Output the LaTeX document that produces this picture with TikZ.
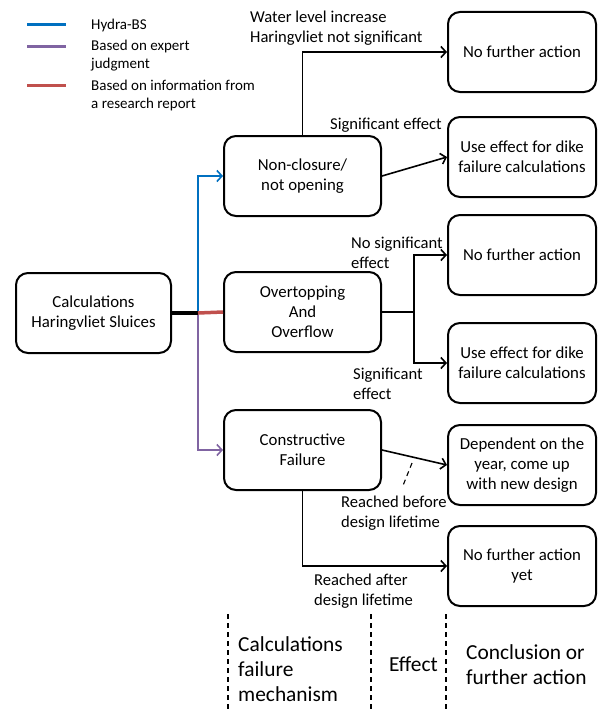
\documentclass[tikz,border=0pt]{standalone}
\usepackage{fontspec}
\setmainfont{Carlito}
\usetikzlibrary{arrows.meta,positioning}
\definecolor{hydrablue}{RGB}{0,112,192}
\definecolor{expertpurple}{RGB}{128,100,162}
\definecolor{reportred}{RGB}{192,80,77}
\begin{document}
\begin{tikzpicture}[x=1pt,y=-1pt,
    box/.style={draw, line width=2pt, rounded corners=12pt, align=center,
        font=\fontsize{16.8}{20}\selectfont, inner sep=0pt},
    midbox/.style={box, minimum width=157, minimum height=80},
    endbox/.style={box, minimum width=148, minimum height=80},
    conn/.style={line width=1.6pt, -{Straight Barb[length=5pt,width=11pt]}},
    lbl/.style={align=left, anchor=west, font=\fontsize{16.6}{20}\selectfont, inner sep=0pt},
    leg/.style={align=left, anchor=west, font=\fontsize{15}{18}\selectfont, inner sep=0pt},
    col/.style={align=left, anchor=west, font=\fontsize{21.4}{25}\selectfont, inner sep=0pt},
    sep/.style={dashed, line width=1.1pt, dash pattern=on 5pt off 4pt}]
    \useasboundingbox (0,0) rectangle (598,709);

    % legend
    \draw[hydrablue, line width=3pt] (27,25) -- (66,25);
    \draw[expertpurple, line width=3pt] (27,47) -- (66,47);
    \draw[reportred, line width=3pt] (27,85) -- (66,85);
    \node[leg] (legbs) at (91,26) {Hydra-BS};
    \node[leg] (legexp) at (91,56) {Based on expert\\judgment};
    \node[leg] (legrep) at (91,96) {Based on information from\\a research report};

    % boxes
    \node[box, minimum width=155, minimum height=80] (calc) at (93.5,313) {Calculations\\Haringvliet Sluices};
    \node[midbox] (nonclos) at (302.5,176) {Non-closure/\\not opening};
    \node[midbox] (overtop) at (302.5,312) {Overtopping\\And\\Overflow};
    \node[midbox] (constr) at (302.5,450) {Constructive\\Failure};

    \node[endbox] (nfaA) at (522,52) {No further action};
    \node[endbox] (useA) at (522,157) {Use effect for dike\\failure calculations};
    \node[endbox] (nfaB) at (522,255) {No further action};
    \node[endbox] (useB) at (522,363) {Use effect for dike\\failure calculations};
    \node[endbox] (dep) at (522,465) {Dependent on the\\year, come up\\with new design};
    \node[endbox] (nfaC) at (522,566) {No further action\\yet};

    % from the sluices
    \coordinate (split) at (198,313);
    \draw[hydrablue, line width=1.6pt, -{Straight Barb[length=5pt,width=11pt]}] (split) |- (nonclos.west);
    \draw[expertpurple, line width=1.6pt, -{Straight Barb[length=5pt,width=11pt]}] (split) |- (constr.west);
    \draw[line width=3.5pt] (calc.east) -- (split);
    \draw[reportred, line width=3.5pt] (split) -- (overtop.west);

    % non-closure
    \draw[conn] (nonclos.north) |- (nfaA.west);
    \draw[conn] (nonclos.east) -- (useA.west);
    \node[lbl] (lwater) at (250,28.5) {Water level increase\\Haringvliet not significant};
    \node[lbl] (lsigA) at (330,125) {Significant effect};

    % overtopping
    \coordinate (ofork) at (414,312);
    \draw[line width=1.6pt] (overtop.east) -- (ofork);
    \draw[conn] (ofork) |- (nfaB.west);
    \draw[conn] (ofork) |- (useB.west);
    \node[lbl] (lnosig) at (351,253) {No significant\\effect};
    \node[lbl] (lsigB) at (353,384) {Significant\\effect};

    % constructive failure
    \draw[conn] (constr.east) -- (dep.west);
    \draw[conn] (constr.south) |- (nfaC.west);
    \coordinate (ptA) at (412,463);
    \coordinate (ptB) at (402,488);
    \draw[dashed, line width=1.1pt, dash pattern=on 5pt off 4pt] (ptA) -- (ptB);
    \node[lbl] (lbefore) at (341,513) {Reached before\\design lifetime};
    \node[lbl] (lafter) at (314,591) {Reached after\\design lifetime};

    % columns
    \draw[sep] (228,614) -- (228,709);
    \draw[sep] (371,614) -- (371,709);
    \draw[sep] (446,614) -- (446,709);
    \node[col] (cmech) at (238,669) {Calculations\\failure\\mechanism};
    \node[col] (ceff) at (389,664) {Effect};
    \node[col] (cconc) at (466,665) {Conclusion or\\further action};
\end{tikzpicture}
\end{document}
